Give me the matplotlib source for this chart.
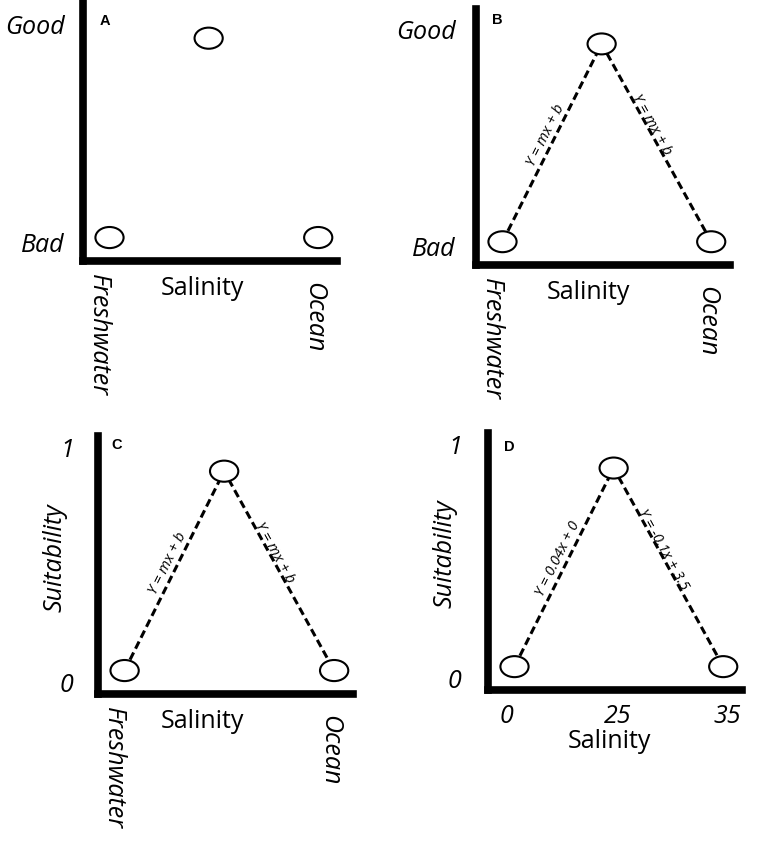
import math
import matplotlib
matplotlib.use("Agg")
import matplotlib.pyplot as plt
from matplotlib.patches import Ellipse

# schematic positions of the three points (freshwater, peak, ocean)
x_pos = [0, 0.475, 1]
suit = [0.05, 0.9, 0.05]

panel_letters = ["A", "B", "C", "D"]
y_labels_ab = ["Bad", "Good"]
y_ticks_ab = [0.03, 0.96]
y_labels_cd = ["0", "1"]
y_ticks_cd = [0, 1]
x_end_labels = ["Freshwater", "Ocean"]
d_tick_labels = ["0", "25", "35"]
eq_generic = ["Y = mx + b", "Y = mx + b"]
eq_d = ["Y = 0.04x + 0", "Y = -0.1x + 3.5"]

W, H = 765, 849
fig = plt.figure(figsize=(W / 100, H / 100), dpi=100)

FONT = "Open Sans"
FS = 18

# axes boxes in pixels: left, right, top, bottom
boxes = [(83, 337, 3, 261), (476, 730, 9, 265), (98, 353, 436, 694), (488, 742, 433, 690)]
letter_pos = [(0.087, 0.93), (0.083, 0.957), (0.073, 0.965), (0.083, 0.945)]
sal_pos = [(0.47, -0.105), (0.443, -0.108), (0.41, -0.108), (0.48, -0.2)]
ypad = [13, 14.5, 17.5, 19]


def add_eq(ax, i0, i1, text, t, off):
    p0 = ax.transData.transform((x_pos[i0], suit[i0]))
    p1 = ax.transData.transform((x_pos[i1], suit[i1]))
    dx, dy = p1[0] - p0[0], p1[1] - p0[1]
    ang = math.atan2(dy, dx)
    if dx < 0:
        ang += math.pi
    nx, ny = -math.sin(ang), math.cos(ang)
    px = p0[0] + t * dx
    py = p0[1] + t * dy
    xd, yd = ax.transData.inverted().transform((px, py))
    ax.annotate(text, (xd, yd), xytext=(nx * off * 0.72, ny * off * 0.72),
                textcoords="offset points", rotation=math.degrees(ang),
                rotation_mode="anchor", ha="center", va="center",
                fontsize=10.5, fontstyle="italic", family=FONT)


for k in range(4):
    l, r, t, b = boxes[k]
    ax = fig.add_axes([l / W, 1 - b / H, (r - l) / W, (b - t) / H])
    ax.set_xlim(-0.127, 1.09)
    ax.set_ylim(-0.05, 1.05)
    for s in ["top", "right"]:
        ax.spines[s].set_visible(False)
    for s in ["left", "bottom"]:
        ax.spines[s].set_linewidth(5.5)
        ax.spines[s].set_capstyle("projecting")
    ax.patch.set_alpha(0)

    # y labels
    if k < 2:
        ax.set_yticks(y_ticks_ab, y_labels_ab)
    else:
        ax.set_yticks(y_ticks_cd, y_labels_cd)
        ax.text(-0.17, 0.53, "Suitability", transform=ax.transAxes, rotation=90,
                ha="center", va="center", fontsize=FS, fontstyle="italic", family=FONT)
    ax.tick_params(axis="y", length=0, pad=ypad[k], labelsize=FS)
    for lab in ax.get_yticklabels():
        lab.set_fontstyle("italic")
        lab.set_family(FONT)

    # x labels
    if k < 3:
        ax.set_xticks([])
        tr = ax.get_xaxis_transform()
        ax.text(-0.055, -0.052, x_end_labels[0], transform=tr, rotation=-90,
                ha="center", va="top", fontsize=FS, fontstyle="italic", family=FONT)
        ax.text(0.98, -0.082, x_end_labels[1], transform=tr, rotation=-90,
                ha="center", va="top", fontsize=FS, fontstyle="italic", family=FONT)
    else:
        ax.set_xticks([x_pos[0] - 0.04, x_pos[1] + 0.02, x_pos[2] + 0.02], d_tick_labels)
        ax.tick_params(axis="x", length=0, pad=10, labelsize=FS)
        for lab in ax.get_xticklabels():
            lab.set_fontstyle("italic")
            lab.set_family(FONT)
    sx, sy = sal_pos[k]
    ax.text(sx, sy, "Salinity", transform=ax.transAxes, ha="center", va="center",
            fontsize=FS, family=FONT)

    ax.text(letter_pos[k][0], letter_pos[k][1], panel_letters[k], transform=ax.transAxes,
            ha="center", va="center", fontsize=10.5, fontweight="bold", family="Liberation Sans")

    # dashed lines
    if k > 0:
        ax.plot(x_pos, suit, color="black", lw=2.2, linestyle=(0, (2.6, 1.4)),
                dash_capstyle="butt", zorder=2)
        eqs = eq_d if k == 3 else eq_generic
        add_eq(ax, 0, 1, eqs[0], 0.52, 9)
        add_eq(ax, 1, 2, eqs[1], 0.42, 4)

    for xv, yv in zip(x_pos, suit):
        ax.add_patch(Ellipse((xv, yv), 0.135, 0.09, facecolor="white", edgecolor="black",
                             lw=1.5, zorder=3, clip_on=False))

fig.savefig("out.png", dpi=100)
